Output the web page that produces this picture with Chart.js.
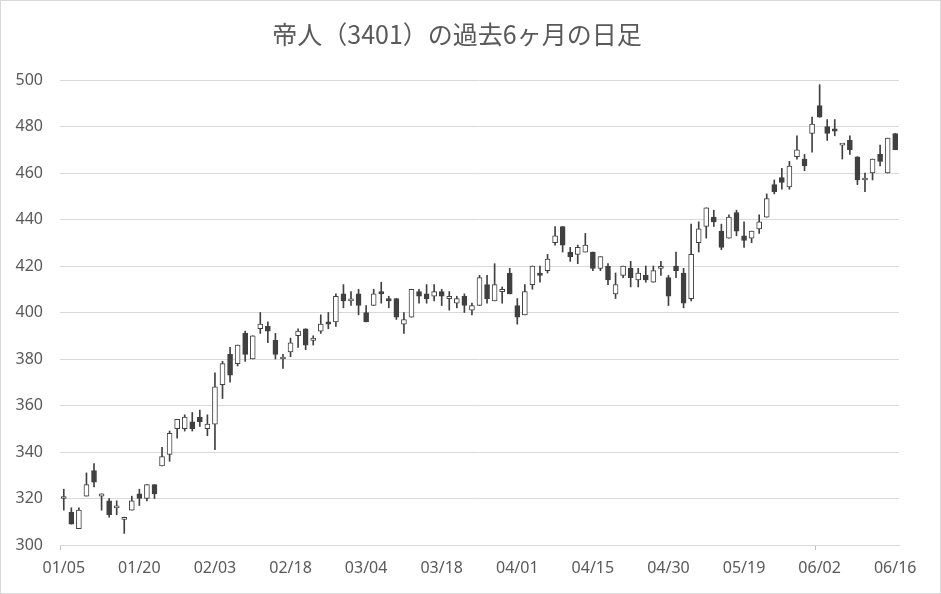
<!DOCTYPE html>
<html>
<head>
<meta charset="utf-8">
<script src="https://cdn.jsdelivr.net/npm/chart.js@4/dist/chart.umd.min.js"></script>
<style>
  html, body { margin: 0; padding: 0; background: #ffffff; }
  #wrap { width: 941px; height: 594px; }
</style>
</head>
<body>
<div id="wrap"><canvas id="candleChart" width="941" height="594"></canvas></div>
<script>
// ================================
// DATA
// ================================

const dates = [
    "01/05","01/06","01/07","01/08","01/09","01/13","01/14","01/15","01/16","01/19",
    "01/20","01/21","01/22","01/23","01/26","01/27","01/28","01/29","01/30",
    "02/02","02/03","02/04","02/05","02/06","02/09","02/10","02/12","02/13","02/16",
    "02/17","02/18","02/19","02/20","02/23","02/24","02/25","02/26","02/27",
    "03/02","03/03","03/04","03/05","03/06","03/09","03/10","03/11","03/12","03/13",
    "03/16","03/17","03/18","03/19","03/20","03/23","03/24","03/25","03/26","03/27",
    "03/30","03/31",
    "04/01","04/02","04/03","04/06","04/07","04/08","04/09","04/10","04/13","04/14",
    "04/15","04/16","04/17","04/20","04/21","04/22","04/23","04/24","04/27","04/28",
    "04/30",
    "05/01","05/07","05/08","05/11","05/12","05/13","05/14","05/15","05/18","05/19",
    "05/20","05/21","05/22","05/25","05/26","05/27","05/28","05/29",
    "06/01","06/02","06/03","06/04","06/05","06/08","06/09","06/10","06/11","06/12",
    "06/15","06/16"
];

const opens = [
    320, 314, 307, 321, 332, 321, 319, 316, 311, 315,
    322, 320, 326, 334, 339, 350, 350, 353, 355, 350,
    352, 369, 382, 378, 391, 380, 393, 394, 388, 380,
    383, 390, 393, 388, 392, 396, 396, 408, 405, 408,
    400, 403, 409, 406, 406, 395, 398, 409, 408, 407,
    409, 406, 404, 407, 401, 403, 412, 405, 409, 417,
    403, 399, 412, 417, 418, 430, 437, 426, 425, 426,
    426, 419, 420, 408, 416, 419, 414, 416, 413, 419,
    415, 420, 417, 406, 430, 437, 441, 435, 432, 443,
    433, 432, 436, 441, 455, 458, 454, 467, 466, 477,
    489, 480, 479, 472, 474, 467, 457, 460, 468, 460,
    477
];

const highs = [
    324, 316, 316, 331, 335, 322, 320, 319, 312, 321,
    324, 326, 326, 342, 349, 354, 356, 357, 358, 356,
    374, 379, 385, 386, 392, 390, 400, 396, 391, 382,
    389, 393, 393, 390, 399, 400, 408, 412, 409, 410,
    403, 410, 413, 407, 406, 400, 410, 410, 412, 412,
    410, 409, 407, 408, 404, 416, 416, 421, 411, 419,
    406, 412, 420, 420, 425, 437, 437, 428, 429, 434,
    426, 424, 421, 417, 420, 422, 419, 420, 420, 422,
    416, 426, 419, 438, 439, 445, 444, 438, 442, 444,
    439, 435, 442, 451, 457, 462, 465, 476, 468, 484,
    498, 483, 483, 472, 476, 467, 460, 466, 472, 475,
    477
];

const lows = [
    315, 309, 307, 321, 325, 315, 312, 313, 305, 315,
    317, 319, 320, 334, 336, 346, 349, 349, 351, 347,
    341, 363, 370, 377, 379, 380, 391, 387, 380, 376,
    381, 385, 384, 386, 391, 393, 394, 402, 403, 399,
    396, 403, 404, 402, 397, 391, 398, 404, 404, 405,
    403, 401, 402, 400, 399, 403, 404, 405, 404, 408,
    395, 399, 410, 413, 417, 429, 426, 422, 421, 426,
    418, 418, 412, 406, 415, 411, 411, 413, 413, 416,
    403, 415, 402, 405, 426, 432, 437, 427, 432, 433,
    428, 430, 434, 441, 451, 453, 453, 466, 461, 469,
    484, 474, 476, 466, 468, 455, 452, 457, 463, 460,
    470
];

const closes = [
    320, 309, 315, 326, 327, 322, 313, 316, 311, 319,
    320, 326, 322, 338, 348, 354, 355, 350, 353, 352,
    368, 378, 373, 386, 382, 390, 395, 392, 382, 380,
    387, 392, 386, 389, 395, 395, 407, 405, 405, 403,
    396, 408, 408, 405, 398, 397, 410, 407, 406, 409,
    407, 407, 406, 403, 403, 415, 406, 412, 410, 408,
    398, 409, 420, 416, 423, 433, 429, 424, 428, 429,
    419, 424, 414, 412, 420, 415, 417, 414, 418, 419,
    407, 418, 404, 425, 436, 445, 439, 428, 441, 435,
    431, 435, 439, 449, 452, 456, 463, 470, 463, 481,
    484, 477, 478, 472, 470, 457, 457, 466, 465, 475,
    470
];

const yTicks = [300, 320, 340, 360, 380, 400, 420, 440, 460, 480, 500];

// ================================
// CANDLE PARTS
// ================================

const darkColor = "#404040";

const bodies = opens.map((o, i) => [o, closes[i]]);

const wicks = lows.map((l, i) => [l, highs[i]]);

const bodyFill = opens.map((o, i) =>
    closes[i] < o ? darkColor : "#ffffff"
);

// outer frame round the whole chart
const framePlugin = {
    id: "frame",
    afterDraw(chart) {
        const c = chart.ctx;
        c.save();
        c.strokeStyle = "#d9d9d9";
        c.lineWidth = 1;
        c.strokeRect(0.5, 0.5, chart.width - 1, chart.height - 1);
        c.restore();
    }
};

// ================================
// CHART
// ================================

const candleCtx = document.getElementById("candleChart");

new Chart(candleCtx, {

    type: "bar",

    data: {

        labels: dates,

        datasets: [
            {
                label: "body",
                data: bodies,
                backgroundColor: bodyFill,
                borderColor: darkColor,
                borderWidth: 1,
                borderSkipped: false,
                barThickness: 5,
                minBarLength: 2,
                grouped: false
            },
            {
                label: "wick",
                data: wicks,
                backgroundColor: darkColor,
                borderWidth: 0,
                barThickness: 1,
                grouped: false
            }
        ]

    },

    options: {

        responsive: false,

        animation: false,

        layout: {
            padding: { left: 15, right: 42, top: 0, bottom: 15 }
        },

        plugins: {

            legend: { display: false },

            tooltip: { enabled: false },

            title: {
                display: true,
                text: "帝人（3401）の過去6ヶ月の日足",
                color: "#595959",
                font: {
                    family: "'Noto Sans CJK JP', 'Noto Sans'",
                    size: 25,
                    weight: "normal",
                    lineHeight: 1.2
                },
                padding: { top: 19, bottom: 31 }
            }

        },

        scales: {

            x: {
                offset: true,
                afterFit: scale => { scale.height = 34; },
                grid: {
                    offset: true,
                    drawOnChartArea: false,
                    drawTicks: true,
                    tickLength: 5,
                    color: ctx => (ctx.index % 100 === 0 ? "#bfbfbf" : "rgba(0,0,0,0)")
                },
                border: { display: true, color: "#d9d9d9" },
                ticks: {
                    autoSkip: false,
                    maxRotation: 0,
                    padding: 9,
                    color: "#595959",
                    font: { family: "'Noto Sans'", size: 16 },
                    callback: (v, i) => (i % 10 === 0 ? dates[i] : "")
                }
            },

            y: {
                min: yTicks[0],
                max: yTicks[yTicks.length - 1],
                afterFit: scale => { scale.width = 45; },
                afterBuildTicks: scale => {
                    scale.ticks = yTicks.map(v => ({ value: v }));
                },
                grid: {
                    color: "#d9d9d9",
                    drawTicks: false
                },
                border: { display: false },
                ticks: {
                    padding: 17,
                    color: "#595959",
                    font: { family: "'Noto Sans'", size: 16 }
                }
            }

        }

    },

    plugins: [framePlugin]

});
</script>
</body>
</html>
